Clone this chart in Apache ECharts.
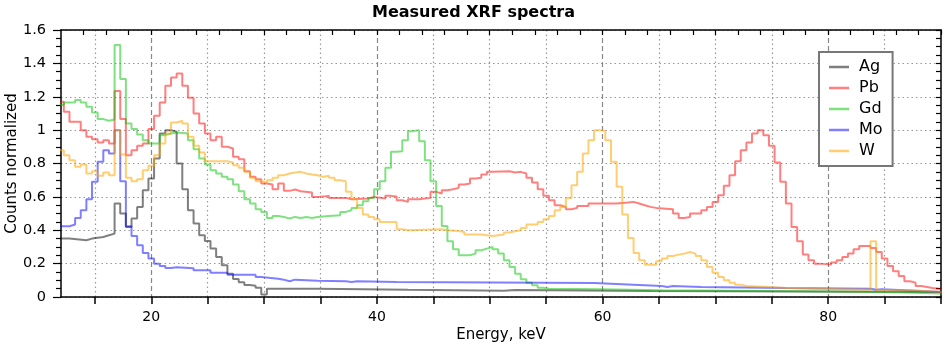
<!DOCTYPE html>
<html>
<head>
<meta charset="utf-8">
<title>Measured XRF spectra</title>
<script src="https://cdn.jsdelivr.net/npm/echarts@6/dist/echarts.min.js"></script>
<style>
  html, body { margin: 0; padding: 0; background: #fff; }
  #chart { width: 947px; height: 344px; }
</style>
</head>
<body>
<div id="chart"></div>
<script>
// spectra, [energy keV (bin left edge), normalized counts]
const agData = [
  [11.75, 0.35], [12.75, 0.34], [14.25, 0.35], [14.75, 0.355], [15.25, 0.36], [15.75, 0.37], [16.25, 0.38],
  [16.75, 0.56], [17.25, 0.50], [17.75, 0.42], [18.25, 0.47], [18.75, 0.54], [19.25, 0.64], [19.75, 0.71],
  [20.25, 0.83], [20.75, 0.98], [21.25, 1.0], [21.75, 0.99], [22.25, 0.80], [22.75, 0.645], [23.25, 0.52],
  [23.75, 0.44], [24.25, 0.37], [24.75, 0.335], [25.25, 0.29], [25.75, 0.24], [26.25, 0.19], [26.75, 0.14],
  [27.25, 0.108], [27.75, 0.088], [28.25, 0.072], [28.75, 0.068], [29.25, 0.056], [29.75, 0.015], [30.25, 0.05],
  [34.75, 0.044], [42.75, 0.038], [51.25, 0.042], [52.25, 0.036], [64.25, 0.03], [90.25, 0.03]
];
const pbData = [
  [11.75, 1.17], [12.25, 1.11], [12.75, 1.05], [13.75, 1.0], [14.25, 0.96], [14.75, 0.946], [15.25, 0.926],
  [15.75, 0.94], [16.25, 0.92], [16.75, 1.234], [17.25, 1.066], [17.75, 0.85], [18.25, 0.88], [18.75, 0.906],
  [19.25, 0.92], [19.75, 1.006], [20.25, 1.086], [20.75, 1.166], [21.25, 1.266], [21.75, 1.316], [22.25, 1.34],
  [22.75, 1.266], [23.25, 1.194], [23.75, 1.10], [24.25, 1.04], [24.75, 0.98], [25.25, 0.94], [25.75, 0.96],
  [26.25, 0.90], [26.75, 0.89], [27.25, 0.84], [27.75, 0.826], [28.25, 0.754], [28.75, 0.72], [29.25, 0.706],
  [29.75, 0.68], [30.25, 0.674], [30.75, 0.646], [31.25, 0.68], [31.75, 0.636], [32.25, 0.644], [32.75, 0.634],
  [33.25, 0.626], [34.25, 0.60], [34.75, 0.606], [35.75, 0.594], [37.25, 0.586], [37.75, 0.59], [39.25, 0.60],
  [39.75, 0.59], [40.75, 0.606], [41.25, 0.602], [41.75, 0.58], [42.25, 0.57], [42.75, 0.586], [43.75, 0.594],
  [44.75, 0.63], [45.25, 0.62], [45.75, 0.64], [46.25, 0.646], [46.75, 0.654], [47.25, 0.674], [47.75, 0.68],
  [48.25, 0.71], [48.75, 0.714], [49.25, 0.734], [49.75, 0.75], [50.25, 0.754], [51.75, 0.746], [52.25, 0.75],
  [52.75, 0.74], [53.25, 0.714], [53.75, 0.686], [54.25, 0.646], [54.75, 0.606], [55.25, 0.58], [55.75, 0.55],
  [56.25, 0.54], [56.75, 0.526], [57.25, 0.534], [57.75, 0.546], [58.75, 0.56], [61.25, 0.566], [62.25, 0.57],
  [62.75, 0.56], [63.25, 0.55], [63.75, 0.54], [64.25, 0.534], [64.75, 0.526], [66.25, 0.50], [66.75, 0.474],
  [67.25, 0.48], [67.75, 0.50], [68.75, 0.52], [69.25, 0.54], [69.75, 0.57], [70.25, 0.61], [70.75, 0.666],
  [71.25, 0.73], [71.75, 0.814], [72.25, 0.88], [72.75, 0.926], [73.25, 0.98], [73.75, 1.0], [74.25, 0.97],
  [74.75, 0.906], [75.25, 0.806], [75.75, 0.69], [76.25, 0.56], [76.75, 0.42], [77.25, 0.334], [77.75, 0.254],
  [78.25, 0.22], [78.75, 0.20], [79.25, 0.194], [80.25, 0.206], [80.75, 0.22], [81.25, 0.24], [81.75, 0.26],
  [82.25, 0.286], [82.75, 0.306], [83.75, 0.294], [84.25, 0.27], [84.75, 0.23], [85.25, 0.186], [85.75, 0.154],
  [86.25, 0.126], [86.75, 0.094], [87.25, 0.086], [87.75, 0.066], [88.25, 0.06], [88.75, 0.054], [89.25, 0.05],
  [89.75, 0.04], [90.25, 0.04]
];
const gdData = [
  [11.75, 1.15], [12.25, 1.166], [13.25, 1.18], [13.75, 1.166], [14.25, 1.14], [14.75, 1.106], [15.25, 1.066],
  [15.75, 1.056], [16.25, 1.064], [16.75, 1.51], [17.25, 1.306], [17.75, 1.04], [18.25, 1.006], [18.75, 0.974],
  [19.25, 0.94], [19.75, 0.92], [20.75, 0.97], [21.25, 0.98], [21.75, 0.986], [22.25, 0.98], [23.25, 0.94],
  [23.75, 0.886], [24.25, 0.83], [24.75, 0.794], [25.25, 0.76], [25.75, 0.74], [26.25, 0.72], [26.75, 0.706],
  [27.25, 0.674], [27.75, 0.634], [28.25, 0.586], [28.75, 0.56], [29.25, 0.526], [29.75, 0.51], [30.25, 0.474],
  [30.75, 0.486], [31.25, 0.48], [31.75, 0.47], [32.25, 0.48], [32.75, 0.474], [33.25, 0.48], [33.75, 0.474],
  [34.25, 0.48], [34.75, 0.486], [35.75, 0.49], [36.75, 0.51], [37.25, 0.52], [37.75, 0.534], [38.25, 0.55],
  [38.75, 0.574], [39.25, 0.594], [39.75, 0.646], [40.25, 0.694], [40.75, 0.774], [41.25, 0.87], [41.75, 0.874],
  [42.25, 0.94], [42.75, 0.994], [43.25, 1.0], [43.75, 0.934], [44.25, 0.82], [44.75, 0.694], [45.25, 0.546],
  [45.75, 0.426], [46.25, 0.334], [46.75, 0.286], [47.25, 0.25], [48.25, 0.26], [48.75, 0.28], [49.25, 0.29],
  [49.75, 0.30], [50.25, 0.286], [50.75, 0.26], [51.25, 0.22], [51.75, 0.18], [52.25, 0.14], [52.75, 0.106],
  [53.25, 0.086], [53.75, 0.07], [54.25, 0.056], [54.75, 0.05], [55.25, 0.046], [59.75, 0.04], [65.25, 0.034],
  [77.25, 0.03], [84.75, 0.02], [90.25, 0.02]
];
const moData = [
  [11.75, 0.424], [12.75, 0.434], [13.25, 0.474], [13.75, 0.52], [14.25, 0.586], [14.75, 0.69], [15.25, 0.81],
  [15.75, 0.88], [16.25, 0.86], [16.75, 1.0], [17.25, 0.694], [17.75, 0.424], [18.25, 0.366], [18.75, 0.31],
  [19.25, 0.264], [19.75, 0.23], [20.25, 0.20], [20.75, 0.186], [21.25, 0.174], [21.75, 0.178], [22.25, 0.172],
  [23.75, 0.16], [25.25, 0.146], [26.75, 0.134], [29.25, 0.12], [29.75, 0.11], [31.25, 0.104], [31.75, 0.094],
  [32.25, 0.104], [32.75, 0.098], [34.75, 0.094], [37.25, 0.09], [37.75, 0.094], [38.25, 0.09], [41.75, 0.084],
  [59.25, 0.074], [62.75, 0.066], [65.25, 0.06], [65.75, 0.066], [66.25, 0.06], [68.75, 0.054], [76.25, 0.05],
  [83.75, 0.044], [84.25, 0.046], [84.75, 0.04], [86.75, 0.03], [90.25, 0.03]
];
const wData = [
  [11.75, 0.88], [12.25, 0.85], [12.75, 0.82], [13.25, 0.78], [13.75, 0.794], [14.25, 0.74], [14.75, 0.754],
  [15.25, 0.726], [15.75, 0.746], [16.25, 0.73], [16.75, 1.0], [17.25, 0.854], [17.75, 0.714], [18.25, 0.694],
  [18.75, 0.706], [19.25, 0.76], [19.75, 0.786], [20.25, 0.85], [20.75, 0.92], [21.25, 0.98], [21.75, 1.046],
  [22.25, 1.056], [22.75, 1.04], [23.25, 0.96], [23.75, 0.906], [24.25, 0.866], [24.75, 0.814], [26.75, 0.806],
  [27.25, 0.79], [27.75, 0.774], [28.25, 0.75], [28.75, 0.714], [29.25, 0.694], [29.75, 0.686], [30.25, 0.70],
  [30.75, 0.714], [31.25, 0.73], [31.75, 0.74], [32.25, 0.746], [32.75, 0.75], [33.25, 0.74], [33.75, 0.734],
  [34.25, 0.73], [34.75, 0.72], [35.25, 0.726], [35.75, 0.714], [36.25, 0.70], [36.75, 0.694], [37.25, 0.63],
  [37.75, 0.586], [38.25, 0.534], [38.75, 0.494], [39.25, 0.48], [39.75, 0.466], [40.25, 0.45], [41.75, 0.406],
  [42.25, 0.40], [42.75, 0.406], [45.75, 0.40], [46.25, 0.396], [47.25, 0.39], [47.75, 0.374], [49.25, 0.366],
  [50.25, 0.374], [51.25, 0.386], [51.75, 0.394], [52.25, 0.40], [52.75, 0.414], [53.25, 0.434], [54.25, 0.45],
  [54.75, 0.466], [55.25, 0.486], [55.75, 0.52], [56.25, 0.54], [56.75, 0.594], [57.25, 0.67], [57.75, 0.75],
  [58.25, 0.86], [58.75, 0.94], [59.25, 1.0], [59.75, 0.994], [60.25, 0.94], [60.75, 0.81], [61.25, 0.66],
  [61.75, 0.494], [62.25, 0.354], [62.75, 0.264], [63.25, 0.22], [63.75, 0.194], [64.75, 0.214], [65.25, 0.23],
  [65.75, 0.246], [66.25, 0.254], [66.75, 0.26], [67.25, 0.27], [67.75, 0.26], [68.25, 0.246], [68.75, 0.22],
  [69.25, 0.18], [69.75, 0.146], [70.25, 0.12], [70.75, 0.10], [71.25, 0.086], [71.75, 0.074], [72.25, 0.066],
  [72.75, 0.06], [74.75, 0.054], [76.25, 0.05], [78.75, 0.044], [83.75, 0.334], [84.25, 0.04], [87.25, 0.03],
  [90.25, 0.03]
];

// axis ticks
const xLabelValues = [20, 40, 60, 80];
const xBottomTicks = [15, 20, 25, 30, 35, 40, 45, 50, 55, 60, 65, 70, 75, 80, 85, 90];
const xMinorGrid = [15, 25, 30, 35, 45, 50, 55, 65, 70, 75, 85];
const xTopTicks = [14, 16, 18, 20, 22, 24, 26, 28, 30, 32, 34, 36, 38, 40, 42, 44, 46, 48, 50,
  52, 54, 56, 58, 60, 62, 64, 66, 68, 70, 72, 74, 76, 78, 80, 82, 84, 86, 88, 90];

const seriesNames = ['Ag', 'Pb', 'Gd', 'Mo', 'W'];
const seriesColors = ['rgba(0,0,0,0.5)', 'rgba(255,0,0,0.5)', 'rgba(0,195,0,0.5)', 'rgba(0,0,255,0.5)', 'rgba(255,165,0,0.55)'];
const seriesData = [agData, pbData, gdData, moData, wData];

const FONT = 'DejaVu Sans';
const chart = echarts.init(document.getElementById('chart'));

const xBase = { type: 'value', min: 12, max: 90, gridIndex: 0 };
const dotted = { color: '#999', type: [1.5, 3], width: 1.2 };

let options = {
  animation: false,
  backgroundColor: '#fff',
  textStyle: { fontFamily: FONT },
  title: {
    text: 'Measured XRF spectra',
    left: 'center',
    top: 0,
    textStyle: { fontFamily: FONT, fontSize: 16, fontWeight: 'bold', color: '#000' }
  },
  grid: { left: 61, right: 6, top: 30, bottom: 47, containLabel: false, outerBoundsMode: 'none' },
  legend: {
    orient: 'vertical',
    left: 819,
    top: 52,
    padding: [7, 10, 7, 10],
    itemWidth: 20,
    itemHeight: 2.5,
    itemGap: 5,
    icon: 'rect',
    borderColor: '#777',
    borderWidth: 2,
    borderRadius: 0,
    backgroundColor: '#fff',
    data: seriesNames,
    textStyle: { fontFamily: FONT, fontSize: 16, color: '#000', lineHeight: 14, padding: [0, 0, 0, 5] }
  },
  xAxis: [
    Object.assign({}, xBase, {
      position: 'bottom',
      name: 'Energy, keV',
      nameLocation: 'middle',
      nameGap: 31,
      nameMoveOverlap: false,
      nameTextStyle: { fontFamily: FONT, fontSize: 15, color: '#000' },
      axisLine: { show: true, onZero: false, lineStyle: { color: '#000', width: 1.5 } },
      axisTick: { show: true, inside: false, length: 7, customValues: xBottomTicks, lineStyle: { color: '#000', width: 1.5 } },
      axisLabel: { show: true, margin: 13, customValues: xLabelValues, fontFamily: FONT, fontSize: 14, color: '#000' },
      splitLine: { show: false }
    }),
    Object.assign({}, xBase, {
      position: 'bottom',
      axisLine: { show: false },
      axisTick: { show: false, customValues: xMinorGrid },
      axisLabel: { show: false },
      splitLine: { show: true, lineStyle: dotted }
    }),
    Object.assign({}, xBase, {
      position: 'top',
      axisLine: { show: true, onZero: false, lineStyle: { color: '#000', width: 1.5 } },
      axisTick: { show: true, inside: true, length: 5, customValues: xTopTicks, lineStyle: { color: '#000', width: 1.2 } },
      axisLabel: { show: false },
      splitLine: { show: false }
    }),
    Object.assign({}, xBase, {
      position: 'bottom',
      axisLine: { show: false },
      axisTick: { show: false, customValues: xLabelValues },
      axisLabel: { show: false },
      splitLine: { show: true, lineStyle: { color: '#888', type: [5, 3], width: 1.2 } }
    })
  ],
  yAxis: [
    {
      type: 'value', min: 0, max: 1.6, interval: 0.2, position: 'left',
      name: 'Counts normalized',
      nameLocation: 'middle',
      nameGap: 41,
      nameMoveOverlap: false,
      nameTextStyle: { fontFamily: FONT, fontSize: 15, color: '#000' },
      axisLine: { show: true, onZero: false, lineStyle: { color: '#000', width: 1.5 } },
      axisTick: { show: true, inside: false, length: 8, lineStyle: { color: '#000', width: 1.2 } },
      minorTick: { show: true, splitNumber: 4, length: 5, lineStyle: { color: '#000', width: 1.2 } },
      axisLabel: { margin: 15, fontFamily: FONT, fontSize: 14.5, color: '#000' },
      splitLine: { show: true, lineStyle: dotted }
    },
    {
      type: 'value', min: 0, max: 1.6, interval: 0.2, position: 'right',
      axisLine: { show: true, onZero: false, lineStyle: { color: '#000', width: 1.5 } },
      axisTick: { show: true, inside: true, length: 5, lineStyle: { color: '#000', width: 1.2 } },
      minorTick: { show: true, splitNumber: 4, length: 5, lineStyle: { color: '#000', width: 1.2 } },
      axisLabel: { show: false },
      splitLine: { show: false }
    }
  ],
  series: seriesNames.map((name, i) => ({
    name: name,
    type: 'line',
    step: 'end',
    xAxisIndex: 0,
    yAxisIndex: 0,
    symbol: 'none',
    showSymbol: false,
    clip: true,
    color: seriesColors[i],
    lineStyle: { width: 2, color: seriesColors[i] },
    data: seriesData[i]
  }))
};

chart.setOption(options);
</script>
</body>
</html>
